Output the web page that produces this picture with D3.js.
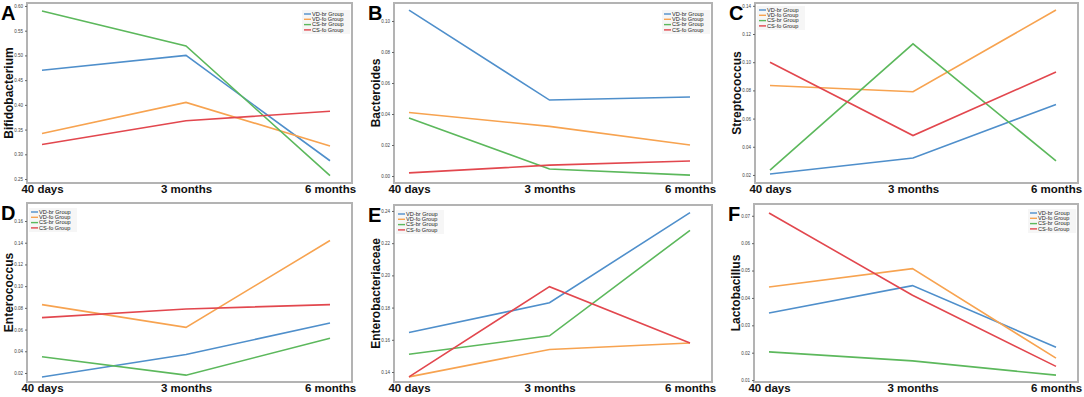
<!DOCTYPE html>
<html>
<head>
<meta charset="utf-8">
<script src="https://cdn.jsdelivr.net/npm/d3@7"></script>
<style>
  body { margin: 0; background: #fff; }
  svg { display: block; font-family: Arial, "Liberation Sans", sans-serif; }
</style>
</head>
<body>
<script>
const timepoints = ["40 days", "3 months", "6 months"];
const groups = ["VD-br Group", "VD-fo Group", "CS-br Group", "CS-fo Group"];
const groupColors = ["#4f8fcb", "#f7a350", "#5cb85c", "#e2474e"];

// values per group, order: VD-br, VD-fo, CS-br, CS-fo
const bifidobacterium = [[0.470, 0.500, 0.287], [0.342, 0.405, 0.317], [0.590, 0.519, 0.257], [0.320, 0.368, 0.387]];
const bacteroides = [[0.107, 0.049, 0.051], [0.041, 0.032, 0.020], [0.0375, 0.0045, 0.0006], [0.002, 0.007, 0.0097]];
const streptococcus = [[0.0207, 0.032, 0.070], [0.0835, 0.079, 0.137], [0.0235, 0.113, 0.030], [0.100, 0.048, 0.093]];
const enterococcus = [[0.0163, 0.037, 0.066], [0.083, 0.062, 0.142], [0.035, 0.018, 0.052], [0.071, 0.079, 0.083]];
const enterobacteriaceae = [[0.1645, 0.183, 0.239], [0.137, 0.154, 0.158], [0.151, 0.1625, 0.228], [0.137, 0.193, 0.158]];
const lactobacillus = [[0.0345, 0.0445, 0.022], [0.044, 0.0507, 0.018], [0.0203, 0.017, 0.0118], [0.071, 0.041, 0.015]];

const ticksA = [0.25, 0.30, 0.35, 0.40, 0.45, 0.50, 0.55, 0.60];
const ticksB = [0.00, 0.02, 0.04, 0.06, 0.08, 0.10];
const ticksC = [0.02, 0.04, 0.06, 0.08, 0.10, 0.12, 0.14];
const ticksD = [0.02, 0.04, 0.06, 0.08, 0.10, 0.12, 0.14, 0.16];
const ticksE = [0.14, 0.16, 0.18, 0.20, 0.22, 0.24];
const ticksF = [0.01, 0.02, 0.03, 0.04, 0.05, 0.06, 0.07];

const panels = [
  {letter: "A", title: "Bifidobacterium", data: bifidobacterium, ticks: ticksA, domain: [0.242, 0.606],
   x: 27, y: 3, w: 325, h: 180, legend: "right", lx: 60, ly: 7},
  {letter: "B", title: "Bacteroides", data: bacteroides, ticks: ticksB, domain: [-0.0045, 0.1116],
   x: 394, y: 3, w: 318, h: 180, legend: "right", lx: 55, ly: 7},
  {letter: "C", title: "Streptococcus", data: streptococcus, ticks: ticksC, domain: [0.0143, 0.142],
   x: 755, y: 3, w: 323, h: 180, legend: "left", lx: 2, ly: 3},
  {letter: "D", title: "Enterococcus", data: enterococcus, ticks: ticksD, domain: [0.0117, 0.1766],
   x: 27, y: 203, w: 325, h: 179, legend: "left", lx: 2, ly: 5},
  {letter: "E", title: "Enterobacteriaceae", data: enterobacteriaceae, ticks: ticksE, domain: [0.1338, 0.2437],
   x: 394, y: 205, w: 318, h: 177, legend: "left", lx: 2, ly: 5},
  {letter: "F", title: "Lactobacillus", data: lactobacillus, ticks: ticksF, domain: [0.0093, 0.0743],
   x: 754, y: 204, w: 324, h: 178, legend: "right", lx: 52, ly: 5}
];

const svg = d3.select("body").append("svg")
  .attr("width", 1084)
  .attr("height", 397);

panels.forEach(p => {
  const g = svg.append("g").attr("transform", `translate(${p.x},${p.y})`);

  const x = d3.scalePoint().domain(timepoints).range([15, p.w - 22]);
  const y = d3.scaleLinear().domain(p.domain).range([p.h, 0]);

  // frame
  g.append("rect")
    .attr("width", p.w).attr("height", p.h)
    .attr("fill", "none").attr("stroke", "#b3b3b3").attr("stroke-width", 2);

  // y axis ticks (tiny)
  const yAxis = g.append("g")
    .call(d3.axisLeft(y).tickValues(p.ticks).tickFormat(d3.format(".2f")).tickSize(2).tickPadding(2));
  yAxis.select(".domain").remove();
  yAxis.selectAll("line").attr("stroke", "#666");
  yAxis.selectAll("text").attr("font-size", 4.5).attr("fill", "#444");

  // x axis labels
  const xAxis = g.append("g").attr("transform", `translate(0,${p.h})`)
    .call(d3.axisBottom(x).tickSize(0).tickPadding(2));
  xAxis.select(".domain").remove();
  xAxis.selectAll("text").attr("font-size", 11.5).attr("font-weight", "bold").attr("fill", "#111");

  // y axis title
  g.append("text")
    .attr("transform", `translate(-14,${p.h / 2}) rotate(-90)`)
    .attr("text-anchor", "middle")
    .attr("font-size", 12).attr("font-weight", "bold").attr("fill", "#111")
    .text(p.title);

  // panel letter
  svg.append("text")
    .attr("x", p.x - 26).attr("y", p.y + 17)
    .attr("font-size", 20).attr("font-weight", "bold").attr("fill", "#000")
    .text(p.letter);

  const line = d3.line().x((d, i) => x(timepoints[i])).y(d => y(d));
  p.data.forEach((vals, gi) => {
    g.append("path")
      .attr("d", line(vals))
      .attr("fill", "none")
      .attr("stroke", groupColors[gi])
      .attr("stroke-width", 1.6);
  });

  // legend
  const lw = 48;
  const lxPos = p.legend === "right" ? p.w - lw - 2 : p.lx;
  const lg = g.append("g").attr("transform", `translate(${lxPos},${p.ly})`);
  lg.append("rect").attr("width", lw).attr("height", 24).attr("fill", "#f4f4f4").attr("opacity", 0.8);
  groups.forEach((name, gi) => {
    const row = lg.append("g").attr("transform", `translate(2,${4 + gi * 5.3})`);
    row.append("line").attr("x1", 0).attr("x2", 7).attr("y1", 0).attr("y2", 0)
      .attr("stroke", groupColors[gi]).attr("stroke-width", 1.4);
    row.append("text").attr("x", 8).attr("y", 1.8)
      .attr("font-size", 5.6).attr("fill", "#222").text(name);
  });
});
</script>
</body>
</html>
